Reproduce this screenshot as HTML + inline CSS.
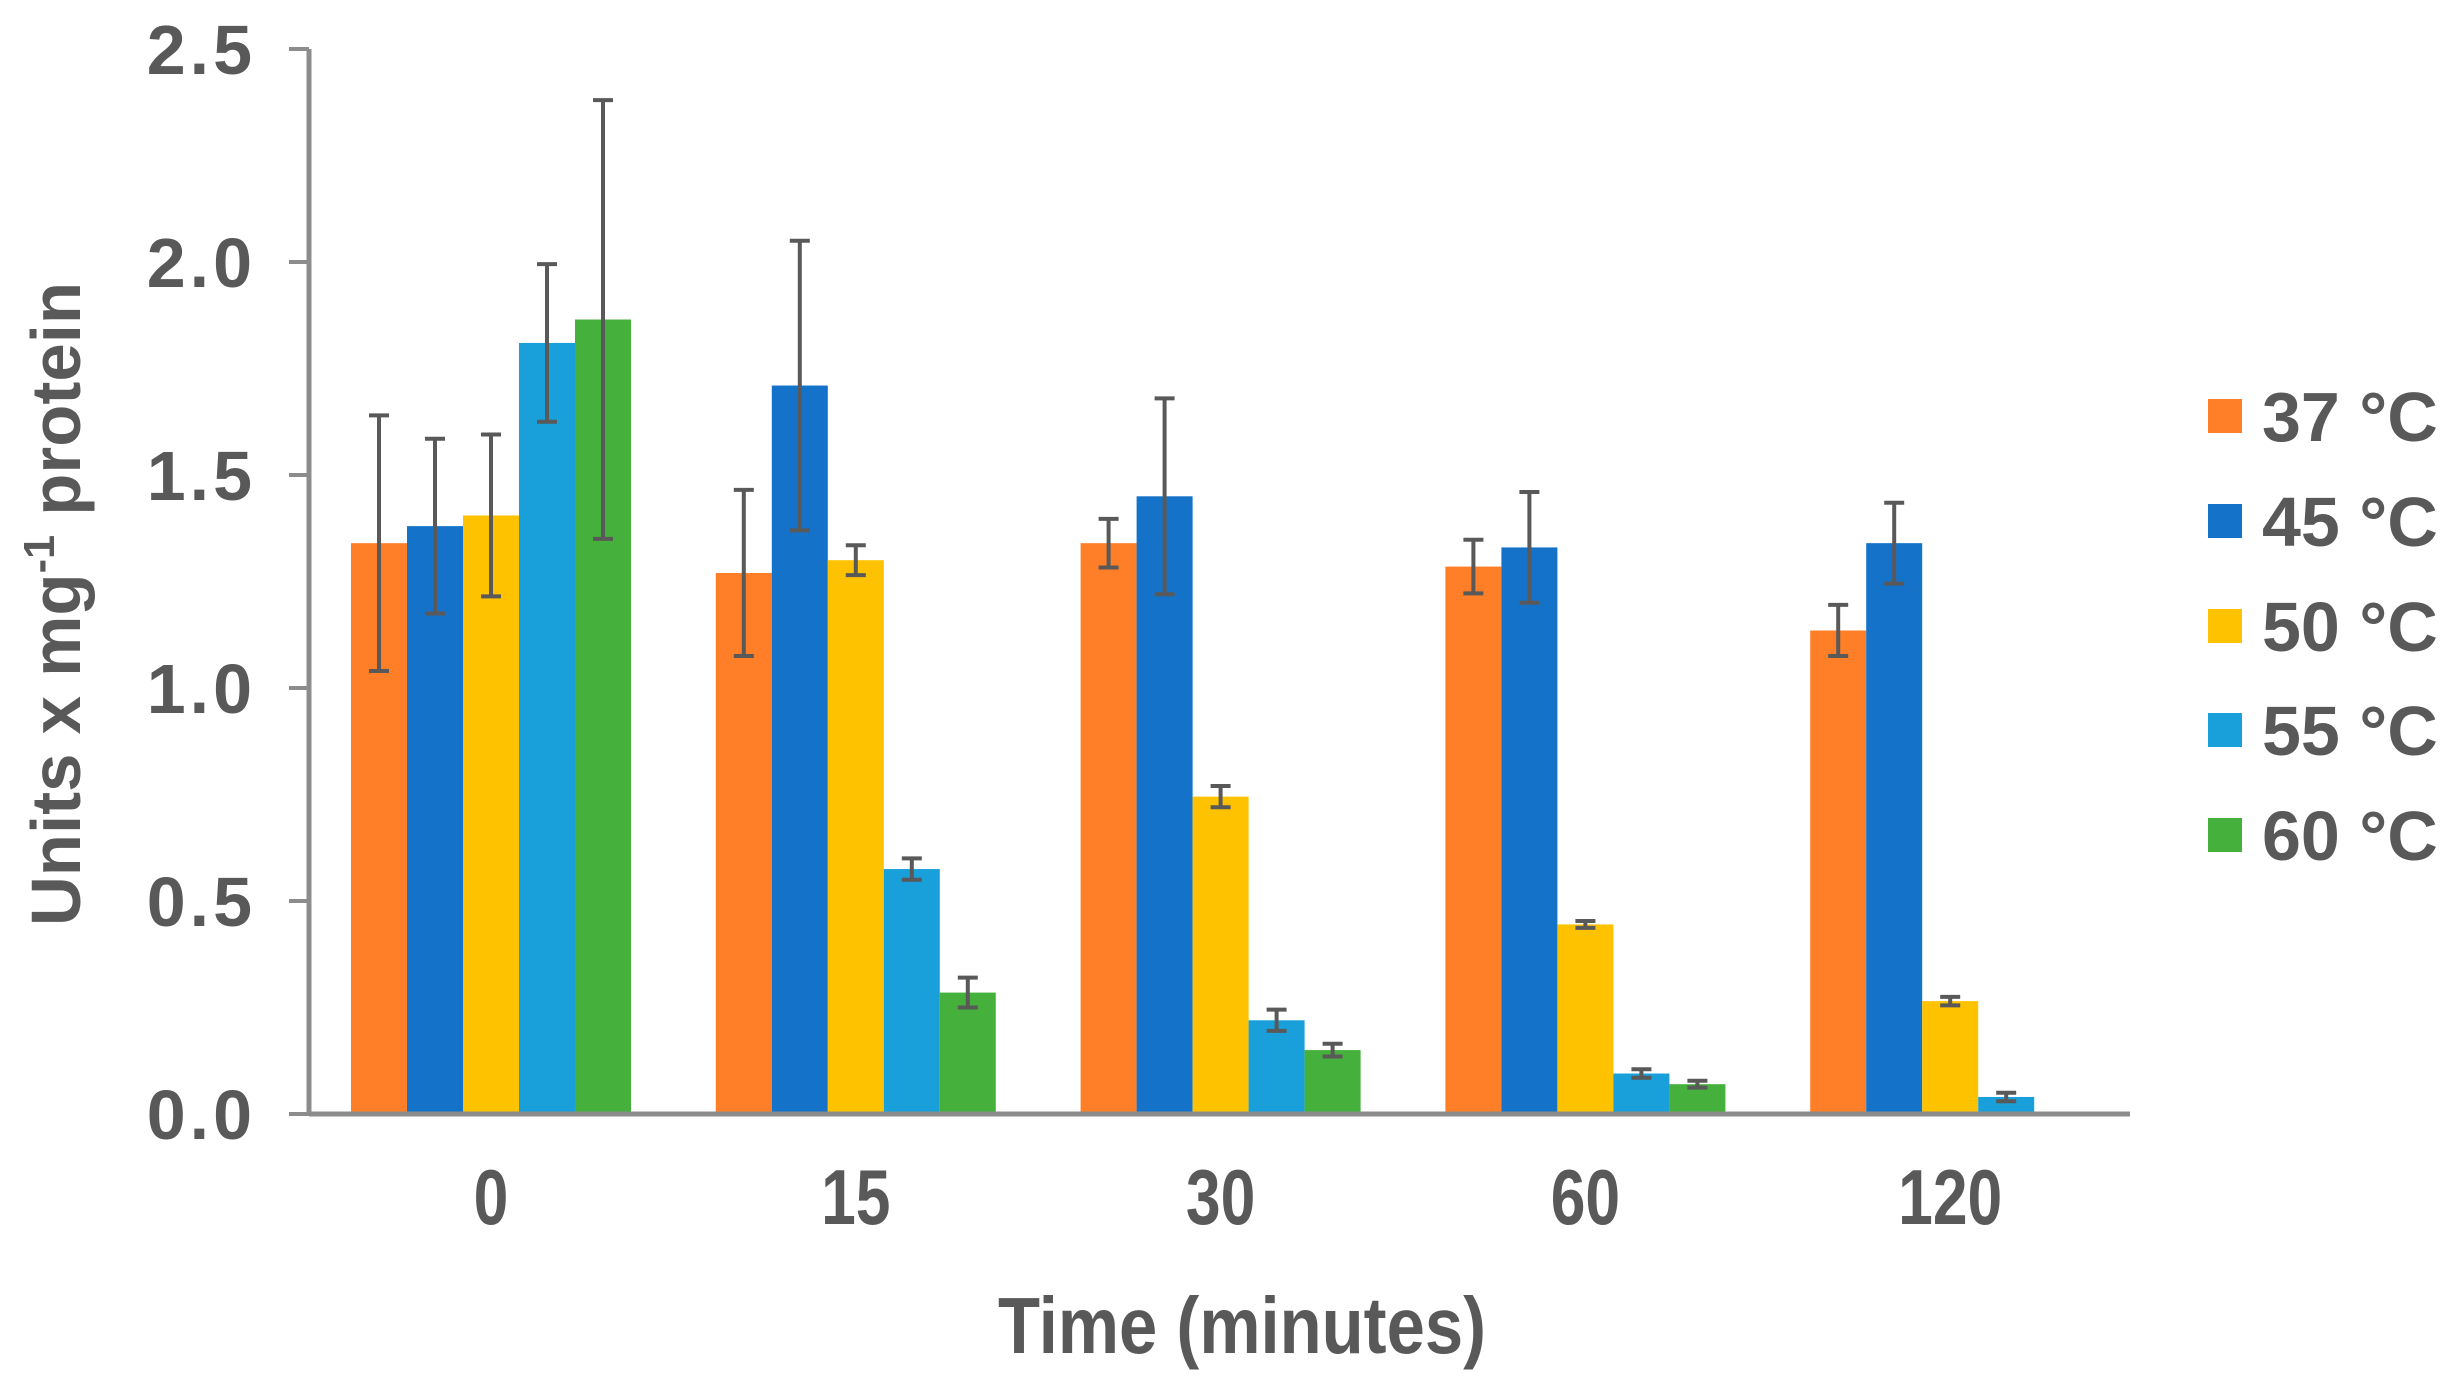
<!DOCTYPE html>
<html><head><meta charset="utf-8"><style>
html,body{margin:0;padding:0;background:#fff;}
svg{display:block;}
text{font-family:"Liberation Sans",sans-serif;font-weight:bold;fill:#595959;}
</style></head><body>
<svg id="chart" width="2452" height="1392" viewBox="0 0 2452 1392" xmlns="http://www.w3.org/2000/svg">
<g id="bars"></g>
<g id="errs"></g>
<g id="axes"></g>
<g id="legend"></g>
<text x="1242" y="1353" font-size="80" text-anchor="middle" textLength="488" lengthAdjust="spacingAndGlyphs">Time (minutes)</text>
<text transform="translate(80,604) rotate(-90)" font-size="70" text-anchor="middle" textLength="644" lengthAdjust="spacingAndGlyphs">Units x mg<tspan font-size="44" dy="-26">-1</tspan><tspan dy="26"> protein</tspan></text>
</svg>
<script>
const categories = ["0","15","30","60","120"];
const seriesNames = ["37 °C","45 °C","50 °C","55 °C","60 °C"];
const s37 = [1.34,1.27,1.34,1.285,1.135];
const s45 = [1.38,1.71,1.45,1.33,1.34];
const s50 = [1.405,1.30,0.745,0.445,0.265];
const s55 = [1.81,0.575,0.22,0.095,0.04];
const s60 = [1.865,0.285,0.15,0.07,0];
const e37 = [0.30,0.195,0.057,0.063,0.06];
const e45 = [0.205,0.34,0.23,0.13,0.095];
const e50 = [0.19,0.035,0.025,0.008,0.01];
const e55 = [0.185,0.025,0.025,0.01,0.01];
const e60 = [0.515,0.035,0.015,0.008,0];
const yTicks = [0,0.5,1.0,1.5,2.0,2.5];
const yTickLabels = ["0.0","0.5","1.0","1.5","2.0","2.5"];

const colors = ["#fe7f27","#1473c9","#fec200","#199fd9","#45b03b"];
const series = [s37,s45,s50,s55,s60];
const errors = [e37,e45,e50,e55,e60];
const NS = "http://www.w3.org/2000/svg";
const y0 = 1114, yTop = 49, yMax = 2.5;
const axisX = 309, axisEnd = 2130;
const firstCenter = 491, groupStep = 364.8, barW = 56;
function yScale(v){ return y0 - (v / yMax) * (y0 - yTop); }
function xCenter(i){ return firstCenter + i * groupStep; }
function mk(tag, attrs, parent){
  const el = document.createElementNS(NS, tag);
  for (const k in attrs) el.setAttribute(k, attrs[k]);
  parent.appendChild(el); return el;
}
const gb = document.getElementById('bars'), ge = document.getElementById('errs');
const ga = document.getElementById('axes'), gl = document.getElementById('legend');
series.forEach((s, si) => {
  s.forEach((v, ci) => {
    const x = xCenter(ci) - 2.5 * barW + si * barW;
    if (v > 0) {
      const r = mk('rect', {x: x, y: yScale(v), width: barW, height: y0 - yScale(v), fill: colors[si]}, gb);
      
      
      const e = errors[si][ci];
      const cx = x + barW / 2;
      const g = mk('g', {stroke: '#595959', 'stroke-width': 4}, ge);
      
      
      mk('line', {x1: cx, x2: cx, y1: yScale(v + e), y2: yScale(v - e)}, g);
      mk('line', {x1: cx - 10, x2: cx + 10, y1: yScale(v + e), y2: yScale(v + e)}, g);
      mk('line', {x1: cx - 10, x2: cx + 10, y1: yScale(v - e), y2: yScale(v - e)}, g);
    }
  });
});
const ax = mk('line', {x1: axisX, x2: axisX, y1: yTop, y2: y0 + 2, stroke: '#8c8c8c', 'stroke-width': 5}, ga);


const xx = mk('line', {x1: axisX, x2: axisEnd, y1: y0, y2: y0, stroke: '#8c8c8c', 'stroke-width': 5}, ga);


yTicks.forEach((t, i) => {
  const y = yScale(t);
  mk('line', {x1: axisX - 20, x2: axisX, y1: y, y2: y, stroke: '#8c8c8c', 'stroke-width': 4}, ga);
  const tx = mk('text', {x: 256, y: y + 25, 'font-size': 70, 'text-anchor': 'end', 'letter-spacing': '4'}, ga);
  
  
  tx.textContent = yTickLabels[i];
});
categories.forEach((c, i) => {
  const tx = mk('text', {x: xCenter(i), y: 1224, 'font-size': 78, 'text-anchor': 'middle', transform: 'translate(' + xCenter(i) + ',0) scale(0.8,1) translate(' + (-xCenter(i)) + ',0)'}, ga);
  
  
  tx.textContent = c;
});
const legY = [416, 521, 626, 730, 835];
seriesNames.forEach((n, i) => {
  const g = mk('g', {}, gl);
  
  
  mk('rect', {x: 2208, y: legY[i] - 17, width: 34, height: 34, fill: colors[i]}, g);
  const t = mk('text', {x: 2262, y: legY[i] + 25, 'font-size': 70}, g);
  t.textContent = n;
});
</script>
</body></html>
